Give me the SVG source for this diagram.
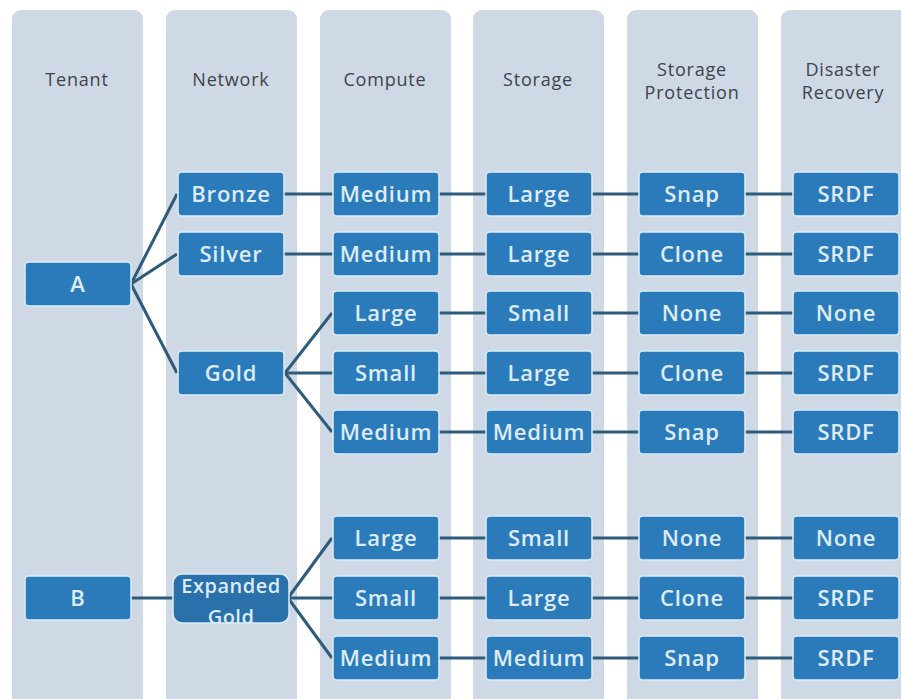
<svg xmlns="http://www.w3.org/2000/svg" width="901" height="699" viewBox="0 0 901 699">
<defs>
<style>
.col{fill:#cfd9e6;}
.hdr{font-family:"Open Sans","Liberation Sans",sans-serif;font-size:18px;fill:#3d434b;text-anchor:middle;letter-spacing:0.8px;}
.box{fill:#2b7bba;stroke:#d9eef8;stroke-width:1.5;}
.lbl{font-family:"Open Sans","Liberation Sans",sans-serif;font-size:22px;font-weight:600;fill:#dcebf6;text-anchor:middle;letter-spacing:0.8px;}
.con line{stroke:#2f5b7a;stroke-width:3;}
</style>
<clipPath id="egclip"><rect x="173" y="574" width="116" height="49" rx="9"/></clipPath>
</defs>
<rect width="901" height="699" fill="#ffffff"/>
<g id="columns">
<rect class="col" x="12" y="10" width="131" height="700" rx="9"/>
<rect class="col" x="166" y="10" width="131" height="700" rx="9"/>
<rect class="col" x="320" y="10" width="131" height="700" rx="9"/>
<rect class="col" x="473" y="10" width="131" height="700" rx="9"/>
<rect class="col" x="627" y="10" width="131" height="700" rx="9"/>
<rect class="col" x="781" y="10" width="131" height="700" rx="9"/>
<text class="hdr" x="77" y="86">Tenant</text>
<text class="hdr" x="231" y="86">Network</text>
<text class="hdr" x="385" y="86">Compute</text>
<text class="hdr" x="538" y="86">Storage</text>
<text class="hdr" x="692" y="76">Storage</text>
<text class="hdr" x="692" y="99">Protection</text>
<text class="hdr" x="843" y="76">Disaster</text>
<text class="hdr" x="843" y="99">Recovery</text>
</g>
<g id="connectors" class="con">
<line x1="131" y1="284" x2="177" y2="194"/>
<line x1="131" y1="284" x2="177" y2="254"/>
<line x1="131" y1="284" x2="177" y2="373"/>
<line x1="131" y1="598" x2="174" y2="598"/>
<line x1="284" y1="194" x2="333" y2="194"/>
<line x1="284" y1="254" x2="333" y2="254"/>
<line x1="285" y1="373" x2="332" y2="313"/>
<line x1="285" y1="373" x2="333" y2="373"/>
<line x1="285" y1="373" x2="332" y2="432"/>
<line x1="288" y1="598" x2="332" y2="538"/>
<line x1="288" y1="598" x2="333" y2="598"/>
<line x1="288" y1="598" x2="332" y2="658"/>
<g id="hlines">
<line x1="439" y1="194" x2="486" y2="194"/><line x1="592" y1="194" x2="639" y2="194"/><line x1="745" y1="194" x2="793" y2="194"/>
<line x1="439" y1="254" x2="486" y2="254"/><line x1="592" y1="254" x2="639" y2="254"/><line x1="745" y1="254" x2="793" y2="254"/>
<line x1="439" y1="313" x2="486" y2="313"/><line x1="592" y1="313" x2="639" y2="313"/><line x1="745" y1="313" x2="793" y2="313"/>
<line x1="439" y1="373" x2="486" y2="373"/><line x1="592" y1="373" x2="639" y2="373"/><line x1="745" y1="373" x2="793" y2="373"/>
<line x1="439" y1="432" x2="486" y2="432"/><line x1="592" y1="432" x2="639" y2="432"/><line x1="745" y1="432" x2="793" y2="432"/>
<line x1="439" y1="538" x2="486" y2="538"/><line x1="592" y1="538" x2="639" y2="538"/><line x1="745" y1="538" x2="793" y2="538"/>
<line x1="439" y1="598" x2="486" y2="598"/><line x1="592" y1="598" x2="639" y2="598"/><line x1="745" y1="598" x2="793" y2="598"/>
<line x1="439" y1="658" x2="486" y2="658"/><line x1="592" y1="658" x2="639" y2="658"/><line x1="745" y1="658" x2="793" y2="658"/>
</g>
</g>
<g id="tenant-A"><rect class="box" x="25" y="262" width="106" height="44" rx="4"/><text class="lbl" x="78" y="292">A</text></g>
<g id="tenant-B"><rect class="box" x="25" y="576" width="106" height="44" rx="4"/><text class="lbl" x="78" y="606">B</text></g>
<g id="net-bronze"><rect class="box" x="178" y="172" width="106" height="44" rx="4"/><text class="lbl" x="231" y="202">Bronze</text></g>
<g id="net-silver"><rect class="box" x="178" y="232" width="106" height="44" rx="4"/><text class="lbl" x="231" y="262">Silver</text></g>
<g id="net-gold"><rect class="box" x="178" y="351" width="106" height="44" rx="4"/><text class="lbl" x="231" y="381">Gold</text></g>
<g id="net-expanded-gold"><rect class="box" x="173" y="574" width="116" height="49" rx="9" style="fill:#2a70aa"/>
<g clip-path="url(#egclip)"><text class="lbl" x="231" y="593" style="font-size:20px;letter-spacing:0.5px">Expanded</text><text class="lbl" x="231" y="624" style="font-size:20px;letter-spacing:0.5px">Gold</text></g></g>
<g id="c1"><rect class="box" x="333" y="172" width="106" height="44" rx="4"/><text class="lbl" x="386" y="202">Medium</text></g>
<g id="c2"><rect class="box" x="333" y="232" width="106" height="44" rx="4"/><text class="lbl" x="386" y="262">Medium</text></g>
<g id="c3"><rect class="box" x="333" y="291" width="106" height="44" rx="4"/><text class="lbl" x="386" y="321">Large</text></g>
<g id="c4"><rect class="box" x="333" y="351" width="106" height="44" rx="4"/><text class="lbl" x="386" y="381">Small</text></g>
<g id="c5"><rect class="box" x="333" y="410" width="106" height="44" rx="4"/><text class="lbl" x="386" y="440">Medium</text></g>
<g id="c6"><rect class="box" x="333" y="516" width="106" height="44" rx="4"/><text class="lbl" x="386" y="546">Large</text></g>
<g id="c7"><rect class="box" x="333" y="576" width="106" height="44" rx="4"/><text class="lbl" x="386" y="606">Small</text></g>
<g id="c8"><rect class="box" x="333" y="636" width="106" height="44" rx="4"/><text class="lbl" x="386" y="666">Medium</text></g>
<g id="s1"><rect class="box" x="486" y="172" width="106" height="44" rx="4"/><text class="lbl" x="539" y="202">Large</text></g>
<g id="s2"><rect class="box" x="486" y="232" width="106" height="44" rx="4"/><text class="lbl" x="539" y="262">Large</text></g>
<g id="s3"><rect class="box" x="486" y="291" width="106" height="44" rx="4"/><text class="lbl" x="539" y="321">Small</text></g>
<g id="s4"><rect class="box" x="486" y="351" width="106" height="44" rx="4"/><text class="lbl" x="539" y="381">Large</text></g>
<g id="s5"><rect class="box" x="486" y="410" width="106" height="44" rx="4"/><text class="lbl" x="539" y="440">Medium</text></g>
<g id="s6"><rect class="box" x="486" y="516" width="106" height="44" rx="4"/><text class="lbl" x="539" y="546">Small</text></g>
<g id="s7"><rect class="box" x="486" y="576" width="106" height="44" rx="4"/><text class="lbl" x="539" y="606">Large</text></g>
<g id="s8"><rect class="box" x="486" y="636" width="106" height="44" rx="4"/><text class="lbl" x="539" y="666">Medium</text></g>
<g id="p1"><rect class="box" x="639" y="172" width="106" height="44" rx="4"/><text class="lbl" x="692" y="202">Snap</text></g>
<g id="p2"><rect class="box" x="639" y="232" width="106" height="44" rx="4"/><text class="lbl" x="692" y="262">Clone</text></g>
<g id="p3"><rect class="box" x="639" y="291" width="106" height="44" rx="4"/><text class="lbl" x="692" y="321">None</text></g>
<g id="p4"><rect class="box" x="639" y="351" width="106" height="44" rx="4"/><text class="lbl" x="692" y="381">Clone</text></g>
<g id="p5"><rect class="box" x="639" y="410" width="106" height="44" rx="4"/><text class="lbl" x="692" y="440">Snap</text></g>
<g id="p6"><rect class="box" x="639" y="516" width="106" height="44" rx="4"/><text class="lbl" x="692" y="546">None</text></g>
<g id="p7"><rect class="box" x="639" y="576" width="106" height="44" rx="4"/><text class="lbl" x="692" y="606">Clone</text></g>
<g id="p8"><rect class="box" x="639" y="636" width="106" height="44" rx="4"/><text class="lbl" x="692" y="666">Snap</text></g>
<g id="d1"><rect class="box" x="793" y="172" width="106" height="44" rx="4"/><text class="lbl" x="846" y="202">SRDF</text></g>
<g id="d2"><rect class="box" x="793" y="232" width="106" height="44" rx="4"/><text class="lbl" x="846" y="262">SRDF</text></g>
<g id="d3"><rect class="box" x="793" y="291" width="106" height="44" rx="4"/><text class="lbl" x="846" y="321">None</text></g>
<g id="d4"><rect class="box" x="793" y="351" width="106" height="44" rx="4"/><text class="lbl" x="846" y="381">SRDF</text></g>
<g id="d5"><rect class="box" x="793" y="410" width="106" height="44" rx="4"/><text class="lbl" x="846" y="440">SRDF</text></g>
<g id="d6"><rect class="box" x="793" y="516" width="106" height="44" rx="4"/><text class="lbl" x="846" y="546">None</text></g>
<g id="d7"><rect class="box" x="793" y="576" width="106" height="44" rx="4"/><text class="lbl" x="846" y="606">SRDF</text></g>
<g id="d8"><rect class="box" x="793" y="636" width="106" height="44" rx="4"/><text class="lbl" x="846" y="666">SRDF</text></g>
</svg>
